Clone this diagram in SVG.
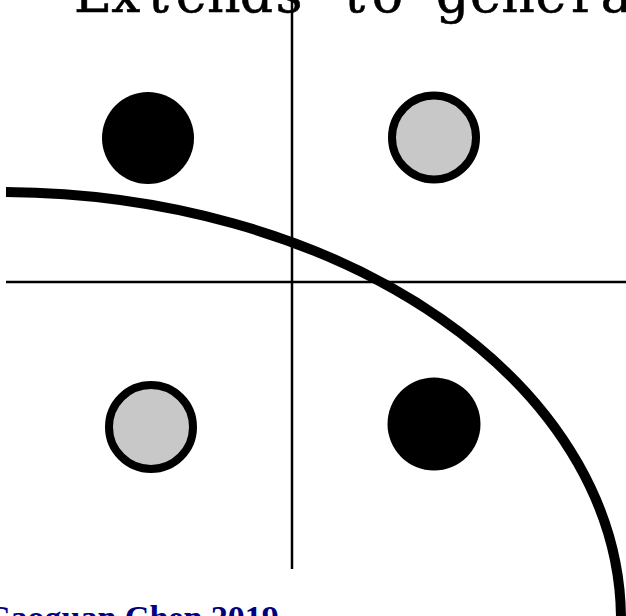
<svg xmlns="http://www.w3.org/2000/svg" width="626" height="616" viewBox="0 0 626 616">
<style>
.axis{stroke:#000;stroke-width:2.5;fill:none}
.black{fill:#000}
.gray{fill:#c8c8c8;stroke:#000;stroke-width:8}
.title{font-family:"DejaVu Serif","Liberation Serif",serif;font-size:52px;fill:#000;stroke:#000;stroke-width:0.6;text-anchor:middle}
.credit{font-family:"Liberation Serif",serif;font-weight:bold;font-size:34px;fill:#000080}
</style>
<rect width="626" height="616" fill="#fff"/>
<text class="title" x="93 125.7 158.4 191.1 223.8 256.5 289.2 321.9 354.6 387.3 420 452.7 485.4 518.1 550.8 583.5 616.2" y="12">Extends to genera</text>
<g id="axes">
<line class="axis" x1="292" y1="0" x2="292" y2="569"/>
<line class="axis" x1="6" y1="282" x2="626" y2="282"/>
</g>
<g id="p1"><circle class="black" cx="148" cy="138" r="46"/></g>
<g id="p2"><circle class="gray" cx="434" cy="137.5" r="42"/></g>
<g id="p3"><circle class="gray" cx="151" cy="427" r="42"/></g>
<g id="p4"><circle class="black" cx="434" cy="424" r="46.5"/></g>
<g id="connectors">
<path d="M6,192 A621,428 0 0 1 621,620" fill="none" stroke="#000" stroke-width="10"/>
</g>
<text class="credit" x="-14" y="629">Caoguan Chen 2019</text>
</svg>
